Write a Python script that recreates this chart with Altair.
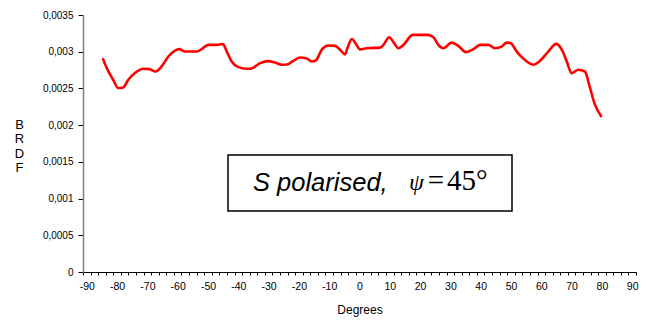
import altair as alt
import pandas as pd

# Measured curve (degrees, BRDF)
degrees = [-84.75, -83.4, -81.3, -79.6, -78.0, -76.3, -74.1, -71.4, -69.4, -67.3,
           -65.3, -63.1, -60.9, -59.5, -57.6, -53.7, -52.1, -49.9, -47.1, -45.1,
           -43.8, -42.2, -40.0, -37.2, -35.6, -32.8, -30.1, -27.9, -25.7, -24.0,
           -21.8, -19.6, -17.4, -15.8, -14.4, -12.5, -10.3, -8.1, -6.4, -4.8,
           -4.0, -2.5, -1.2, 0.2, 2.4, 6.8, 7.9, 9.8, 11.2, 12.8,
           14.5, 17.6, 22.4, 24.4, 26.0, 27.7, 30.4, 32.6, 35.1, 37.6,
           39.8, 42.5, 44.7, 46.9, 48.6, 49.9, 51.9, 53.9, 55.7, 57.4,
           59.3, 62.3, 64.9, 67.1, 68.4, 70.0, 72.2, 74.4, 75.8, 77.7, 79.9]
brdf = [0.002913, 0.002777, 0.002618, 0.002506, 0.002514, 0.002618, 0.002709, 0.002767, 0.002763, 0.002731,
        0.002799, 0.002934, 0.003016, 0.003035, 0.003002, 0.003002, 0.003035, 0.003093, 0.003093, 0.003103,
        0.003002, 0.002867, 0.002790, 0.002767, 0.002772, 0.002845, 0.002872, 0.002853, 0.002822, 0.002826,
        0.002876, 0.002921, 0.002907, 0.002867, 0.002880, 0.003025, 0.003084, 0.003080, 0.003025, 0.002964,
        0.003048, 0.003174, 0.003107, 0.003032, 0.003048, 0.003056, 0.003093, 0.003198, 0.003130, 0.003048,
        0.003093, 0.003229, 0.003229, 0.003198, 0.003093, 0.003048, 0.003124, 0.003080, 0.002994, 0.003035,
        0.003093, 0.003093, 0.003048, 0.003070, 0.003124, 0.003116, 0.003002, 0.002913, 0.002853, 0.002822,
        0.002867, 0.003002, 0.003107, 0.003002, 0.002867, 0.002709, 0.002754, 0.002731, 0.002550, 0.002279, 0.002112]

y_ticks = [0, 0.0005, 0.001, 0.0015, 0.002, 0.0025, 0.003, 0.0035]
# category boundaries of the Excel-style axis (2.5 degree categories); labels sit mid-category
x_ticks = [-91.25 + 2.5 * k for k in range(74)]

W, H = 553, 257
FONT = "Liberation Sans"
PX_PER_DEG = W / 182.5

df = pd.DataFrame({"deg": degrees, "brdf": brdf})

xscale = alt.Scale(domain=[-91.25, 91.25], nice=False, zero=False)
yscale = alt.Scale(domain=[0, 0.0035], nice=False)

line = alt.Chart(df).mark_line(color="#FF0000", strokeWidth=2.6, interpolate="monotone").encode(
    x=alt.X("deg:Q", scale=xscale,
            axis=alt.Axis(values=x_ticks, title="Degrees", grid=False,
                          labelExpr="(datum.value + 1.25) % 10 == 0 ? toString(datum.value + 1.25) : ''",
                          labelOverlap=False, labelOffset=1.25 * PX_PER_DEG,
                          ticks=True, tickSize=3, tickColor="#000000",
                          domainColor="#000000", domainWidth=1.2,
                          labelFont=FONT, labelFontSize=10.5, labelColor="#000000",
                          labelPadding=6, labelFlush=False, labelBound=False,
                          titleFont=FONT, titleFontSize=12, titleFontWeight="normal",
                          titleColor="#000000", titlePadding=13)),
    y=alt.Y("brdf:Q", scale=yscale,
            axis=alt.Axis(values=y_ticks, title=["B", "R", "D", "F"], grid=False,
                          labelExpr="replace(toString(datum.value), '.', ',')",
                          labelOverlap=False,
                          domainColor="#808080", domainWidth=1.5,
                          tickColor="#000000", tickSize=5,
                          labelFont=FONT, labelFontSize=10, labelColor="#000000",
                          labelPadding=5,
                          titleAngle=0, titleAlign="center", titleBaseline="alphabetic",
                          titleX=-64, titleY=113, titleLineHeight=14.5,
                          titleFont=FONT, titleFontSize=13, titleFontWeight="normal",
                          titleColor="#000000")),
)

one = pd.DataFrame({"a": [0]})

box = alt.Chart(one).mark_rect(
    fill="white", stroke="black", strokeWidth=1.5
).encode(x=alt.value(145), x2=alt.value(429), y=alt.value(140), y2=alt.value(196))

txt_s = alt.Chart(one).mark_text(
    text="S polarised,", font=FONT, fontStyle="italic", fontSize=25.5, align="left",
    baseline="alphabetic", color="black"
).encode(x=alt.value(170), y=alt.value(176))

txt_psi = alt.Chart(one).mark_text(
    text="ψ", font="Liberation Serif", fontStyle="italic", fontSize=24, align="left",
    baseline="alphabetic", color="black"
).encode(x=alt.value(326), y=alt.value(175))

txt_eq = alt.Chart(one).mark_text(
    text="=", font="Liberation Serif", fontSize=29, align="center",
    baseline="alphabetic", color="black"
).encode(x=alt.value(353), y=alt.value(175))

txt_45 = alt.Chart(one).mark_text(
    text="45°", font="Liberation Serif", fontSize=29, align="left",
    baseline="alphabetic", color="black"
).encode(x=alt.value(364), y=alt.value(175))

chart = alt.layer(line, box, txt_s, txt_psi, txt_eq, txt_45).properties(
    width=W, height=H,
    autosize=alt.AutoSizeParams(type="none"),
    padding={"left": 75, "top": 7, "right": 4, "bottom": 48},
    background="white",
).configure_view(stroke=None)

chart.save("out.html", embed_options={"renderer": "svg", "actions": False})
